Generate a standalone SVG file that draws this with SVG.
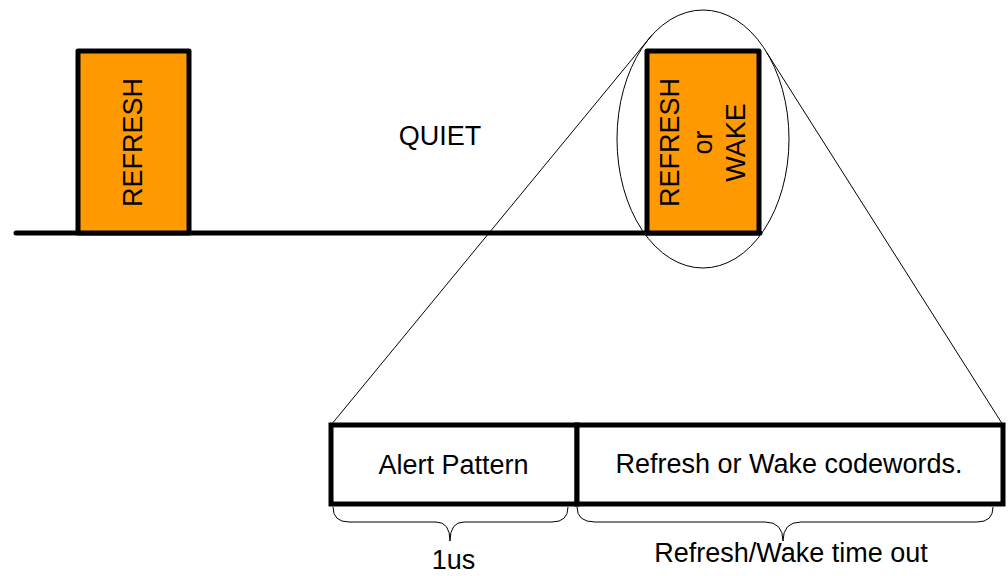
<svg xmlns="http://www.w3.org/2000/svg" width="1008" height="576" viewBox="0 0 1008 576">
<style>
.t{font-family:"Liberation Sans",Arial,sans-serif;font-size:27px;fill:#000;text-anchor:middle}
.box{fill:#FF9900;stroke:#000;stroke-width:5;stroke-linejoin:round}
.thin{fill:none;stroke:#000;stroke-width:1}
.frame{fill:#fff;stroke:#000;stroke-width:5}
</style>
<rect width="1008" height="576" fill="#fff"/>
<g id="connectors">
<line x1="16" y1="233" x2="760" y2="233" stroke="#000" stroke-width="5" stroke-linecap="round"/>
<line class="thin" x1="331" y1="425" x2="652" y2="35"/>
<line class="thin" x1="767" y1="53" x2="1003" y2="425"/>
<path class="thin" stroke-width="1.5" d="M333,507 Q333,522 349,522 L436,522 Q450,522 450,541 Q450,522 464,522 L552,522 Q568,522 568,507"/>
<path class="thin" stroke-width="3" d="M577,507 Q577,522 595,522 L765,522 Q783,522 783,541 Q783,522 801,522 L977,522 Q993,522 993,507"/>
</g>
<g id="refresh1">
<rect class="box" x="78" y="51" width="111" height="182"/>
<text class="t" transform="translate(142,142.5) rotate(-90)">REFRESH</text>
</g>
<g id="quiet">
<text class="t" x="440" y="145">QUIET</text>
</g>
<g id="refresh2">
<rect class="box" x="647" y="51" width="112" height="182"/>
<text class="t" transform="translate(679,142.5) rotate(-90)">REFRESH</text>
<text class="t" transform="translate(712,142.5) rotate(-90)">or</text>
<text class="t" transform="translate(745,142.5) rotate(-90)">WAKE</text>
</g>
<g id="zoom-ellipse">
<ellipse class="thin" cx="703" cy="139" rx="86" ry="129"/>
</g>
<g id="alert">
<rect class="frame" x="331" y="425" width="246" height="79"/>
<text class="t" x="453.5" y="474">Alert Pattern</text>
</g>
<g id="codewords">
<rect class="frame" x="577" y="425" width="426" height="79"/>
<text class="t" x="789" y="473">Refresh or Wake codewords.</text>
</g>
<g id="labels">
<text class="t" x="453.5" y="569">1us</text>
<text class="t" x="791" y="562">Refresh/Wake time out</text>
</g>
</svg>
